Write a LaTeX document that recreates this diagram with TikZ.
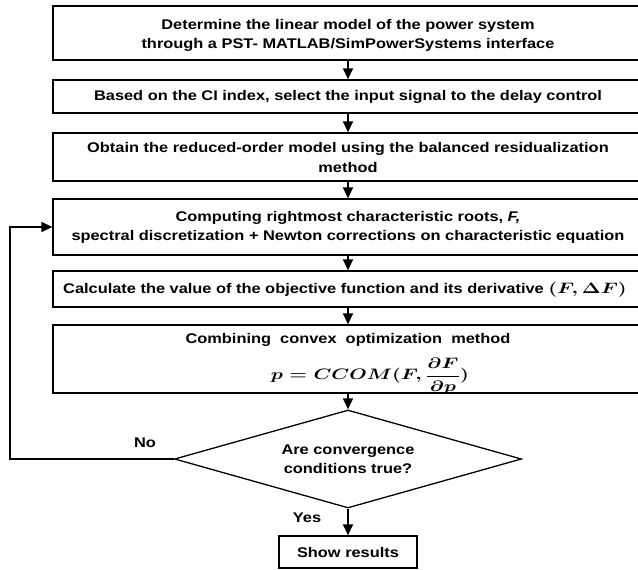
\documentclass[tikz,border=0pt]{standalone}
\usepackage{fontspec}
\setmainfont{Liberation Sans}[FakeStretch=1.17]
\usepackage{amsmath}
\usetikzlibrary{shapes.geometric,arrows.meta}

% heavy, wide formula setting
\newcommand{\wideformula}[1]{\scalebox{1.4}[1.05]{\boldmath$#1$}}

\tikzset{
  flowbox/.style={draw, line width=1.3pt, rectangle, inner sep=0pt,
    minimum width=597pt},
  flowtext/.style={inner sep=0pt, align=center,
    font=\fontsize{14}{19.5}\selectfont\bfseries},
  decision/.style={draw, line width=1.3pt, diamond, shape aspect=2.9,
    inner sep=0pt, minimum width=347pt, minimum height=98pt,
    align=center, font=\fontsize{14}{19.5}\selectfont\bfseries},
  flowarrow/.style={line width=1.3pt,
    -{Triangle[length=11pt,width=10pt]}},
  edgelabel/.style={inner sep=0pt, font=\fontsize{14}{17}\selectfont\bfseries}
}

\begin{document}
\begin{tikzpicture}[x=1pt,y=-1pt]
  \clip (0,0) rectangle (638,570);

  % vertical axis of the flow
  \coordinate (ax) at (348,0);
  \coordinate (lp) at (10,0);

  % process boxes (open towards the right margin)
  \node[flowbox, minimum height=54pt] (b1) at (351.5,33) {};
  \node[flowtext] (t1) at (348,35.5)
    {Determine the linear model of the power system\\
     through a PST- MATLAB/SimPowerSystems interface};

  \node[flowbox, minimum height=33pt] (b2) at (351.5,96.5) {};
  \node[flowtext] (t2) at (348,96.5)
    {Based on the CI index, select the input signal to the delay control};

  \node[flowbox, minimum height=48pt] (b3) at (351.5,157) {};
  \node[flowtext] (t3) at (348,157.5)
    {Obtain the reduced-order model using the balanced residualization\\
     method};

  \node[flowbox, minimum height=56pt] (b4) at (351.5,227) {};
  \node[flowtext] (t4) at (348,227.5)
    {Computing rightmost characteristic roots, \textit{F,}\\
     spectral discretization + Newton corrections on characteristic equation};

  \node[flowbox, minimum height=36pt] (b5) at (351.5,289) {};
  \node[flowtext] (t5) at (345,289.5)
    {Calculate the value of the objective function and its derivative
     \wideformula{(F,\Delta F)}};

  \node[flowbox, minimum height=68pt] (b6) at (351.5,359) {};
  \node[flowtext] (t6a) at (348,340)
    {Combining\ \ convex\ \ optimization\ \ method};
  \node[inner sep=0pt, font=\fontsize{14}{17}\selectfont] (t6b) at (370,376)
    {\wideformula{p = CCOM(F,\dfrac{\partial F}{\partial p})}};

  % decision and terminal box
  \node[decision] (d) at (348,459) {Are convergence\\conditions true?};
  \node[flowbox, minimum width=138pt, minimum height=32pt] (sr) at (348,552) {};
  \node[flowtext] (tsr) at (348,552) {Show results};

  % connectors
  \draw[flowarrow] (b1.south -| ax) -- (b2.north -| ax);
  \draw[flowarrow] (b2.south -| ax) -- (b3.north -| ax);
  \draw[flowarrow] (b3.south -| ax) -- (b4.north -| ax);
  \draw[flowarrow] (b4.south -| ax) -- (b5.north -| ax);
  \draw[flowarrow] (b5.south -| ax) -- (b6.north -| ax);
  \draw[flowarrow] (b6.south -| ax) -- (d.north);
  \draw[flowarrow] (d.south) -- (sr.north);
  \draw[flowarrow] (d.west) -- (d.west -| lp) |- (b4.west);

  % branch labels
  \node[edgelabel] (no) at (145,443) {No};
  \node[edgelabel] (yes) at (307,518) {Yes};
\end{tikzpicture}
\end{document}
